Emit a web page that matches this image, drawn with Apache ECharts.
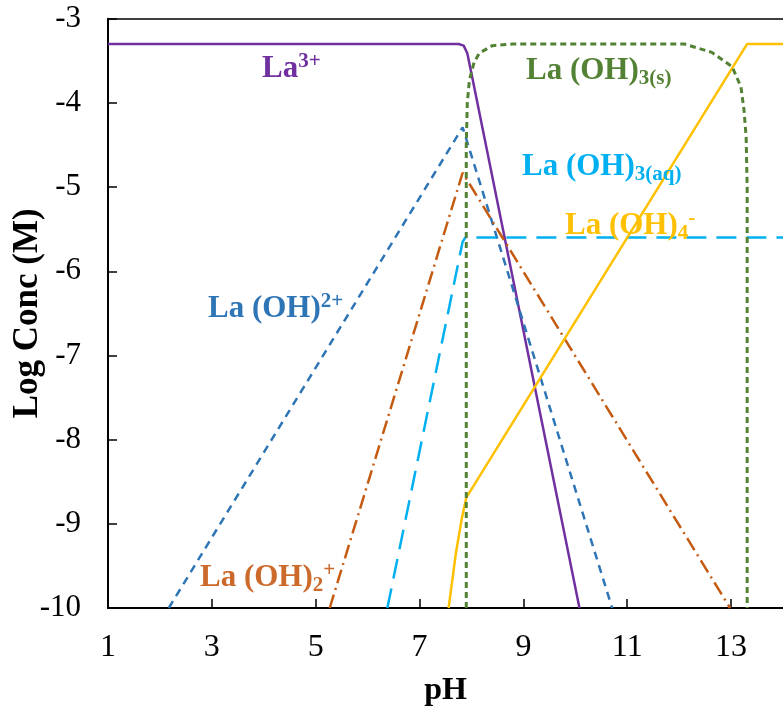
<!DOCTYPE html>
<html>
<head>
<meta charset="utf-8">
<script src="https://cdn.jsdelivr.net/npm/echarts@6/dist/echarts.min.js"></script>
<style>
  html, body { margin: 0; padding: 0; background: #fff; }
  #chart { width: 783px; height: 713px; }
</style>
</head>
<body>
<div id="chart"></div>
<script>
  // [pH, log conc] pairs
  var la3 = [[1, -3.3], [7.75, -3.3], [7.85, -3.32], [7.92, -3.41], [8.0, -3.65], [10.08, -10]]
  var laOH = [[2.17, -10], [7.83, -4.29], [10.71, -10]]
  var laOH2 = [[5.27, -10], [7.83, -4.83], [12.98, -10]]
  var laOH3aq = [[6.38, -10], [7.83, -5.65], [7.88, -5.6], [7.95, -5.6], [14, -5.6]]
  var laOH4 = [[7.56, -10], [7.7, -9.35], [7.81, -8.95], [7.9, -8.69], [13.31, -3.3], [14, -3.3]]
  var laOH3s = [[7.9, -10], [7.9, -4.5], [7.92, -4.0], [7.96, -3.73], [8.05, -3.52], [8.15, -3.41],
    [8.4, -3.32], [8.8, -3.3], [12.1, -3.3], [12.63, -3.4], [13.02, -3.57], [13.19, -3.81],
    [13.25, -4.09], [13.29, -4.41], [13.31, -5.0], [13.31, -10]]

  var xMin = 1
  var xMax = 14
  var yMin = -10
  var yMax = -3

  var serif = 'Liberation Serif'

  var line = function (name, data, color, type, width) {
    return {
      name: name,
      type: 'line',
      data: data,
      symbol: 'none',
      silent: true,
      lineStyle: { color: color, type: type, width: width }
    }
  }

  var label = function (x, y, color, text) {
    return {
      type: 'text',
      x: x,
      y: y,
      z: 100,
      style: {
        text: text,
        fill: color,
        rich: {
          m: { fontFamily: serif, fontWeight: 'bold', fontSize: 31, lineHeight: 36, fill: color },
          sup: { fontFamily: serif, fontWeight: 'bold', fontSize: 21, lineHeight: 17, verticalAlign: 'top', fill: color },
          sub: { fontFamily: serif, fontWeight: 'bold', fontSize: 21, lineHeight: 19, verticalAlign: 'bottom', fill: color }
        }
      }
    }
  }

  var myChart = echarts.init(document.getElementById('chart'))

  var option = {
    animation: false,
    grid: { left: 108, right: 0, top: 18.7, bottom: 105, outerBoundsMode: 'none' },
    xAxis: [
      {
        type: 'value',
        min: xMin,
        max: xMax,
        interval: 2,
        name: 'pH',
        nameLocation: 'middle',
        nameGap: 67,
        nameMoveOverlap: false,
        nameTextStyle: { fontFamily: serif, fontWeight: 'bold', fontSize: 32, color: '#000' },
        axisLine: { lineStyle: { color: '#000', width: 2 } },
        axisTick: { inside: true, length: 9, lineStyle: { color: '#000', width: 1.5 } },
        axisLabel: { fontFamily: serif, fontSize: 32, color: '#000', margin: 24, showMaxLabel: false },
        splitLine: { show: false }
      }, {
        type: 'value',
        position: 'top',
        min: xMin,
        max: xMax,
        axisLine: { show: true, lineStyle: { color: '#000', width: 1.5 } },
        axisTick: { show: false },
        axisLabel: { show: false },
        splitLine: { show: false }
      }
    ],
    yAxis: {
      type: 'value',
      min: yMin,
      max: yMax,
      interval: 1,
      name: 'Log Conc (M)',
      nameLocation: 'middle',
      nameGap: 63,
      nameMoveOverlap: false,
      nameTextStyle: { fontFamily: serif, fontWeight: 'bold', fontSize: 35, color: '#000' },
      axisLine: { show: true, lineStyle: { color: '#000', width: 2 } },
      axisTick: { show: true, inside: true, length: 9, lineStyle: { color: '#000', width: 1.5 } },
      axisLabel: { fontFamily: serif, fontSize: 31, color: '#000', margin: 27 },
      splitLine: { show: false }
    },
    graphic: [
      label(262, 51, '#7030A0', '{m|La}{sup|3+}'),
      label(208, 291, '#2E75B6', '{m|La (OH)}{sup|2+}'),
      label(200, 560, '#CB6A2B', '{m|La (OH)}{sub|2}{sup|+}'),
      label(526, 53, '#548235', '{m|La (OH)}{sub|3(s)}'),
      label(522, 149, '#00B0F0', '{m|La (OH)}{sub|3(aq)}'),
      label(565, 208, '#FFC000', '{m|La (OH)}{sub|4}{sup|-}')
    ],
    series: [
      line('La3+', la3, '#7030A0', 'solid', 2.5),
      line('La(OH)2+', laOH, '#2E75B6', [8, 6], 2.5),
      line('La(OH)2 +', laOH2, '#C55A11', [14, 5, 2, 5], 2.5),
      line('La(OH)3(aq)', laOH3aq, '#00B0F0', [20, 10], 2.5),
      line('La(OH)4-', laOH4, '#FFC000', 'solid', 2.5),
      line('La(OH)3(s)', laOH3s, '#548235', [6, 4], 3)
    ]
  }
  myChart.setOption(option)
</script>
</body>
</html>
